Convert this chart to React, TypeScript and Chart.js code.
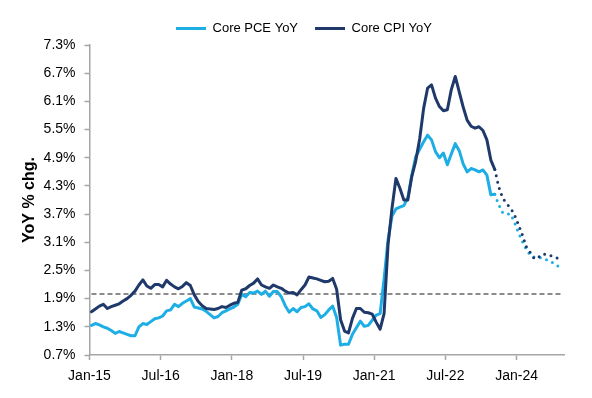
import React, { useEffect, useRef } from 'react';
import { Chart, registerables } from 'chart.js';

Chart.register(...registerables);

// Month index 0 = Jan-15; points are plotted mid-month
const X_TICK_MONTHS = [0, 18, 36, 54, 72, 90, 108];
const X_TICK_LABELS = ['Jan-15', 'Jul-16', 'Jan-18', 'Jul-19', 'Jan-21', 'Jul-22', 'Jan-24'];
const X_AXIS_END = 120;

const Y_TICKS = [0.7, 1.3, 1.9, 2.5, 3.1, 3.7, 4.3, 4.9, 5.5, 6.1, 6.7, 7.3];
const TARGET = 2.0;

// Core PCE YoY, Jan-15 .. Jul-23 (actual)
const PCE_ACTUAL = [
  1.33, 1.37, 1.34, 1.30, 1.27, 1.22, 1.16, 1.20, 1.17, 1.14,
  1.11, 1.11, 1.30, 1.37, 1.35, 1.41, 1.47, 1.49, 1.53, 1.64,
  1.66, 1.78, 1.73, 1.80, 1.85, 1.90, 1.72, 1.70, 1.68, 1.63,
  1.56, 1.49, 1.52, 1.60, 1.64, 1.68, 1.72, 1.78, 1.99, 1.94,
  2.03, 2.02, 2.06, 1.99, 2.06, 1.95, 2.05, 2.05, 1.94, 1.75,
  1.61, 1.69, 1.62, 1.71, 1.73, 1.79, 1.68, 1.64, 1.50, 1.56,
  1.66, 1.74, 1.50, 0.91, 0.93, 0.93, 1.14, 1.28, 1.42, 1.31,
  1.33, 1.44, 1.55, 1.58, 2.32, 3.15, 3.66, 3.81, 3.85, 3.88,
  4.05, 4.52, 4.92, 5.08, 5.24, 5.38, 5.28, 5.03, 4.90, 5.00,
  4.75, 4.98, 5.20, 5.05, 4.77, 4.60, 4.67, 4.64, 4.60, 4.64,
  4.53, 4.11, 4.12,
];
// Core PCE YoY projection, Aug-23 .. Dec-24
const PCE_PROJ = [
  3.90, 3.73, 3.70, 3.70, 3.52, 3.30, 3.11, 2.94, 2.82, 2.78,
  2.78, 2.76, 2.73, 2.69, 2.65, 2.59, 2.55,
];

// Core CPI YoY, Jan-15 .. Jul-23 (actual)
const CPI_ACTUAL = [
  1.62, 1.68, 1.74, 1.78, 1.69, 1.73, 1.76, 1.79, 1.85, 1.90,
  1.97, 2.06, 2.19, 2.30, 2.17, 2.12, 2.20, 2.20, 2.15, 2.29,
  2.21, 2.15, 2.11, 2.16, 2.24, 2.18, 1.98, 1.84, 1.75, 1.69,
  1.68, 1.67, 1.69, 1.73, 1.71, 1.76, 1.80, 1.82, 2.08, 2.11,
  2.18, 2.23, 2.32, 2.19, 2.15, 2.12, 2.19, 2.15, 2.12, 2.06,
  2.02, 2.03, 1.98, 2.09, 2.19, 2.36, 2.34, 2.32, 2.29, 2.26,
  2.27, 2.33, 2.10, 1.45, 1.21, 1.17, 1.48, 1.69, 1.69, 1.61,
  1.60, 1.57, 1.40, 1.25, 1.58, 3.05, 3.82, 4.46, 4.25, 4.00,
  4.00, 4.50, 4.83, 5.30, 5.95, 6.38, 6.45, 6.17, 5.99, 5.90,
  5.92, 6.35, 6.63, 6.30, 5.98, 5.70, 5.57, 5.53, 5.56, 5.48,
  5.28, 4.85, 4.65,
];
// Core CPI YoY projection, Aug-23 .. Dec-24
const CPI_PROJ = [
  4.28, 4.04, 3.92, 3.83, 3.68, 3.47, 3.25, 3.00, 2.88, 2.75,
  2.78, 2.85, 2.84, 2.82, 2.79, 2.76, 2.73,
];

const LIGHT = '#1DAEE5';
const DARK = '#1F3A6A';
const AXIS = '#a6a6a6';
const FONT = "'Liberation Sans', Arial, sans-serif";

export default function App() {
  const ref = useRef<HTMLCanvasElement>(null);

  useEffect(() => {
    document.body.style.margin = '0';
    const canvas = ref.current;
    if (!canvas) return;

    const toPts = (vals: number[], start: number) =>
      vals.map((v, i) => ({ x: start + i + 0.5, y: v }));
    const pce = [...toPts(PCE_ACTUAL, 0), ...toPts(PCE_PROJ, PCE_ACTUAL.length)];
    const cpi = [...toPts(CPI_ACTUAL, 0), ...toPts(CPI_PROJ, CPI_ACTUAL.length)];
    const solidEnd = PCE_ACTUAL.length - 1;
    const dotted = (ctx: any) => (ctx.p0DataIndex >= solidEnd ? [0, 6.5] : undefined);

    const lineDs = (label: string, data: any[], color: string, order: number) => ({
      label,
      data,
      borderColor: color,
      backgroundColor: color,
      borderWidth: 3,
      pointRadius: 0,
      pointHoverRadius: 0,
      pointBorderWidth: 3,
      borderCapStyle: 'round',
      borderJoinStyle: 'round',
      tension: 0,
      clip: false,
      order,
      segment: { borderDash: dotted },
    });

    const chart = new Chart(canvas, {
      type: 'line',
      data: {
        datasets: [
          lineDs('Core PCE YoY', pce, LIGHT, 1),
          lineDs('Core CPI YoY', cpi, DARK, 0),
          {
            label: 'target',
            data: [
              { x: 0.5, y: TARGET },
              { x: X_AXIS_END - 0.5, y: TARGET },
            ],
            borderColor: '#8c8c8c',
            borderWidth: 2,
            borderDash: [5, 3],
            pointRadius: 0,
            pointHoverRadius: 0,
            clip: false,
            order: 2,
          } as any,
        ] as any,
      },
      options: {
        responsive: false,
        animation: false,
        events: [],
        layout: { padding: { top: 0, left: 16, right: 0, bottom: 0 } },
        plugins: {
          tooltip: { enabled: false },
          legend: {
            position: 'top',
            labels: {
              font: { family: FONT, size: 13 },
              color: '#000',
              usePointStyle: true,
              pointStyle: 'line',
              pointStyleWidth: 30,
              padding: 17,
              filter: (item: any) => item.datasetIndex < 2,
              sort: (a: any, b: any) => a.datasetIndex - b.datasetIndex,
            },
          },
        },
        scales: {
          x: {
            type: 'linear',
            bounds: 'data',
            afterDataLimits: (s: any) => {
              s.min = 0;
              s.max = X_AXIS_END;
            },
            afterBuildTicks: (s: any) => {
              s.ticks = X_TICK_MONTHS.map((v) => ({ value: v }));
            },
            afterFit: (s: any) => {
              s.height = 43;
              s.paddingRight = 28;
            },
            ticks: {
              autoSkip: false,
              maxRotation: 0,
              padding: 8,
              color: '#000',
              font: { family: FONT, size: 14 },
              callback: (v: any) => {
                const i = X_TICK_MONTHS.indexOf(Number(v));
                return i >= 0 ? X_TICK_LABELS[i] : '';
              },
            },
            grid: {
              display: true,
              drawOnChartArea: false,
              drawTicks: true,
              tickLength: 5,
              tickColor: AXIS,
              tickWidth: 1.5,
            },
            border: { display: true, color: AXIS, width: 1.5 },
          },
          y: {
            type: 'linear',
            min: 0.7,
            max: 7.3,
            afterBuildTicks: (s: any) => {
              s.ticks = Y_TICKS.map((v) => ({ value: v }));
            },
            afterFit: (s: any) => {
              s.width = 73.5;
              s.paddingTop = 45;
            },
            ticks: {
              padding: 9,
              color: '#000',
              font: { family: FONT, size: 14 },
              callback: (v: any) => Number(v).toFixed(1) + '%',
            },
            title: {
              display: true,
              text: 'YoY % chg.',
              color: '#000',
              font: { family: FONT, size: 16, weight: 'bold' },
              padding: { top: 4, bottom: 0 },
            },
            grid: {
              display: true,
              drawOnChartArea: false,
              drawTicks: true,
              tickLength: 5,
              tickColor: AXIS,
              tickWidth: 1.5,
            },
            border: { display: true, color: AXIS, width: 1.5 },
          },
        },
      } as any,
    });

    return () => chart.destroy();
  }, []);

  return (
    <div style={{ width: 592, height: 398 }}>
      <canvas ref={ref} width={592} height={398} style={{ display: 'block' }} />
    </div>
  );
}
